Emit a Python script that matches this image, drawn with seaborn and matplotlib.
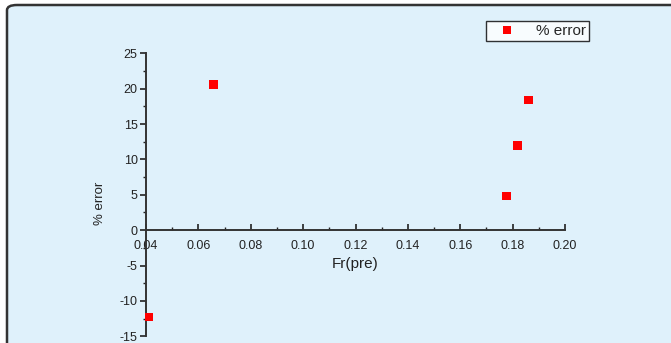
import matplotlib
matplotlib.use("Agg")
import matplotlib.pyplot as plt
from matplotlib.patches import FancyBboxPatch
from matplotlib.ticker import MultipleLocator
import pandas as pd
import seaborn as sns

# values
fr_pre = [0.0411, 0.0657, 0.1777, 0.1818, 0.1860]
pct_error = [-12.25, 20.6, 4.8, 12.0, 18.4]
series_name = "% error"

df = pd.DataFrame({"Fr(pre)": fr_pre, series_name: pct_error})

sns.set_style("white")
plt.rcParams["font.family"] = ["Liberation Sans", "DejaVu Sans"]
plt.rcParams["font.size"] = 9
plt.rcParams["axes.unicode_minus"] = False

fig = plt.figure(figsize=(6.71, 3.43), dpi=100, facecolor="white")

# rounded light-blue panel behind the plot
W, H = 671, 343
panel = FancyBboxPatch((7 / W, -0.3), 1.2, 1 - 5 / H + 0.3,
                       boxstyle="round,pad=0,rounding_size=0.015",
                       transform=fig.transFigure, facecolor="#dff1fb",
                       edgecolor="#333333", linewidth=1.8, zorder=-10)
fig.patches.append(panel)

ax = fig.add_axes([146 / W, 1 - 336.3 / H, 419 / W, 283 / H])
ax.set_facecolor("none")
ax.set_zorder(1)

sns.scatterplot(data=df, x="Fr(pre)", y=series_name, ax=ax, marker="s",
                s=38, color="red", edgecolor="none", label=series_name,
                legend=False, zorder=3, clip_on=False)

ax.set_xlim(0.04, 0.20)
ax.set_ylim(-15, 25)

ax.spines["top"].set_visible(False)
ax.spines["right"].set_visible(False)
ax.spines["bottom"].set_position(("data", 0))
for s in ("left", "bottom"):
    ax.spines[s].set_color("#333333")
    ax.spines[s].set_linewidth(1.4)

ax.xaxis.set_major_locator(MultipleLocator(0.02))
ax.xaxis.set_minor_locator(MultipleLocator(0.01))
ax.yaxis.set_major_locator(MultipleLocator(5))
ax.yaxis.set_minor_locator(MultipleLocator(2.5))
ax.xaxis.set_major_formatter(plt.FuncFormatter(lambda v, p: f"{v:.2f}"))

ax.tick_params(axis="x", which="both", bottom=True, top=False, color="#222222")
ax.tick_params(axis="y", which="both", left=True, right=False, color="#222222")
ax.tick_params(axis="x", which="major", direction="in", length=4, width=1.2,
               pad=7, labelsize=9, labelcolor="#222222")
ax.tick_params(axis="x", which="minor", direction="in", length=2.5, width=1.0)
ax.tick_params(axis="y", which="major", direction="out", length=4, width=1.2,
               pad=2, labelsize=9, labelcolor="#222222")
ax.tick_params(axis="y", which="minor", direction="out", length=2.5, width=1.0)

ax.set_xlabel("Fr(pre)", fontsize=11, color="#222222")
ax.xaxis.set_label_coords(0.5, 0.28)
ax.set_ylabel("% error", fontsize=9.5, color="#222222")
ax.yaxis.set_label_coords(-0.095, 0.47)

handle = plt.Line2D([], [], marker="s", linestyle="none", color="red",
                    markersize=5.5, markeredgewidth=0)
leg = fig.legend([handle], [series_name], loc="upper right",
                 bbox_to_anchor=(589 / W, 1 - 21 / H), fontsize=11,
                 frameon=True, fancybox=False, borderpad=0.2,
                 handlelength=2.4, handletextpad=0.7, borderaxespad=0)
leg.get_frame().set_edgecolor("black")
leg.get_frame().set_linewidth(1.0)
leg.get_frame().set_facecolor("white")

fig.savefig("out.png", dpi=100, facecolor="white")
